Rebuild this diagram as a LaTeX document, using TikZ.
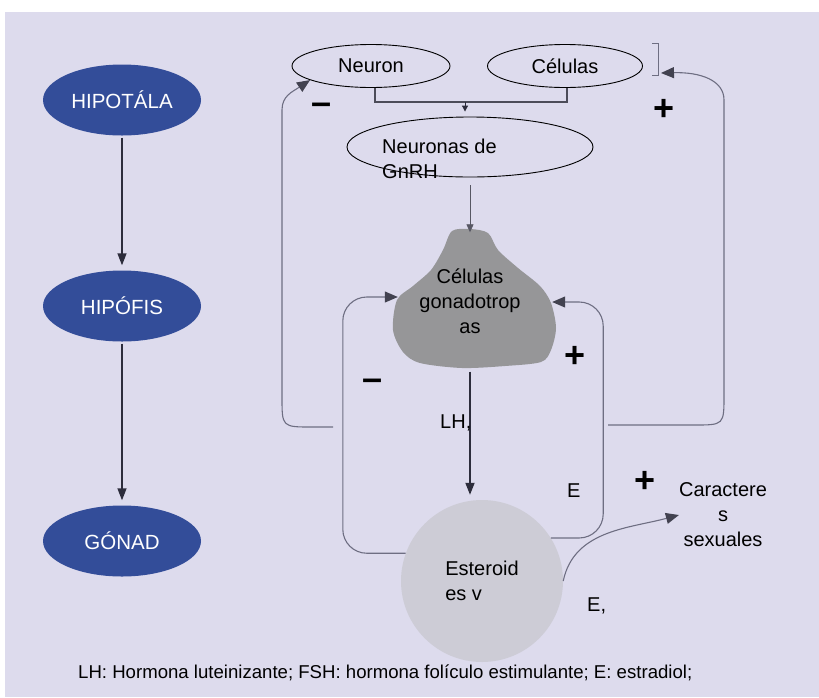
\documentclass[tikz,border=0pt]{standalone}
\usepackage{fontspec}
\setmainfont{Liberation Sans}
\usetikzlibrary{calc,positioning,shapes.geometric,arrows.meta}
\definecolor{lavanda}{RGB}{221,219,237}
\definecolor{azul}{RGB}{51,77,153}
\definecolor{nube}{RGB}{150,150,152}
\definecolor{bola}{RGB}{205,204,214}
\definecolor{linea}{RGB}{110,110,130}
\definecolor{flecha}{RGB}{45,45,60}

\begin{document}
\begin{tikzpicture}[x=1pt,y=-1pt,font=\fontsize{20}{25}\selectfont,
  organo/.style={ellipse,fill=azul,text=white,minimum width=158pt,minimum height=71pt,inner sep=0pt,font=\fontsize{20.5}{25}\selectfont},
  celula/.style={ellipse,draw=black,line width=0.9pt,minimum height=43pt,inner sep=0pt},
  eje/.style={-{Triangle[length=12pt,width=9pt]},draw=flecha,line width=1.5pt,shorten <=2pt,shorten >=5pt},
  retro/.style={-{Triangle[length=13pt,width=11pt,color=flecha!90]},draw=linea,line width=1.1pt,rounded corners=24pt},
  signo/.style={font=\fontsize{36}{36}\selectfont\bfseries,inner sep=0pt}]
\useasboundingbox (0,0) rectangle (819,697);
\fill[white] (0,0) rectangle (819,697);
\fill[lavanda] (5,12) rectangle (819,697);

% eje hipotalamo - hipofisis - gonada
\node[organo] (hipotalamo) at (122,100) {HIPOTÁLA};
\node[organo] (hipofisis) at (122,306) {HIPÓFIS};
\node[organo] (gonada) at (122,541) {GÓNAD};
\draw[eje] (hipotalamo) -- (hipofisis);
\draw[eje] (hipofisis) -- (gonada);

% neuronas
\node[celula,minimum width=158pt] (neuron) at (371,66) {Neuron};
\node[celula,minimum width=155pt] (celulas) at (565,66) {Células};
\node[celula,minimum width=246pt,minimum height=60pt] (gnrh) at (470,147) {};
\node[anchor=west,align=left,inner sep=0pt] (gnrhtxt) at (382,159) {Neuronas de\\GnRH};
\draw[draw=flecha!85,line width=2.2pt] ([xshift=4pt]neuron.south) -- ++(0,14) coordinate (u1) -| ([xshift=2pt]celulas.south);
\coordinate (g1) at ([xshift=-5pt]gnrh.north);
\draw[-{Triangle[length=6pt,width=6pt]},draw=flecha,line width=1pt] (g1 |- u1) -- ([yshift=5pt]g1);
\coordinate (brk) at (661,73);
\draw[draw=linea,line width=0.8pt] ([shift={(-9,-30)}]brk) -- ++(6,0) -- ++(0,32) -- ++(-6,0);

% celulas gonadotropas
\fill[nube] plot[smooth cycle] coordinates {(452,231) (470,229) (488,233) (498,250) (518,268) (540,286) (551,303) (556,328) (551,350) (541,362) (505,366) (462,368) (420,363) (403,352) (393,330) (397,300) (413,286) (431,270) (443,250)};
\node[minimum width=150pt,minimum height=137pt,align=center,inner sep=0pt] (gonado) at (470,301) {Células\\gonadotrop\\as};
\draw[-{Triangle[length=8pt,width=7pt]},draw=flecha!80,line width=0.8pt,shorten <=8pt] (gnrh.south) -- (gnrh.south |- gonado.north);

% esteroides
\node[circle,fill=bola,minimum size=162pt,align=left,inner sep=0pt] (esteroides) at (482,581) {Esteroid\\es v};
\draw[eje,line width=1.8pt,shorten >=5pt] (gonado.south) -- (gonado.south |- esteroides.north);
\node[align=center,inner sep=0pt] (caract) at (723,515) {Caractere\\s\\sexuales};

% retroalimentacion
\coordinate (ltap) at (333,427);
\coordinate (rtap) at (608,425);
\draw[retro] (esteroides.160) -| ([xshift=-52pt,yshift=4pt]gonado.west) -- ([xshift=3pt,yshift=4pt]gonado.west);
\draw[retro] (esteroides.32) -| ([xshift=58pt,yshift=-1pt]gonado.east) -- ([xshift=7pt,yshift=-1pt]gonado.east);
\draw[retro,rounded corners=0pt] (ltap) -- (312,427) .. controls (282,427) .. (282,397) -- (282,110) .. controls (282,96) and (292,92) .. (neuron.193);
\draw[retro,rounded corners=0pt] (rtap) -- (694,425) .. controls (724,425) .. (724,395) -- (724,100) .. controls (724,80) and (700,72) .. (brk);
\draw[retro,rounded corners=0pt] (esteroides.0) to[out=78,in=195] (caract.west);

% etiquetas
\node[anchor=base west,inner sep=0pt] (lh) at (440,428) {LH,};
\node[anchor=base west,inner sep=0pt] (e1) at (567,497) {E};
\node[anchor=base west,inner sep=0pt] (e2) at (587,611) {E,};
\node[signo] (m1) at (322,109) {–};
\node[signo] (p1) at (664,110) {+};
\node[signo] (m2) at (373,385) {–};
\node[signo] (p2) at (575,357) {+};
\node[signo] (p3) at (645,482) {+};
\node[anchor=base west,inner sep=0pt,font=\fontsize{18.6}{20}\selectfont] (nota) at (78,678) {LH: Hormona luteinizante; FSH: hormona folículo estimulante; E: estradiol;};
\end{tikzpicture}
\end{document}
